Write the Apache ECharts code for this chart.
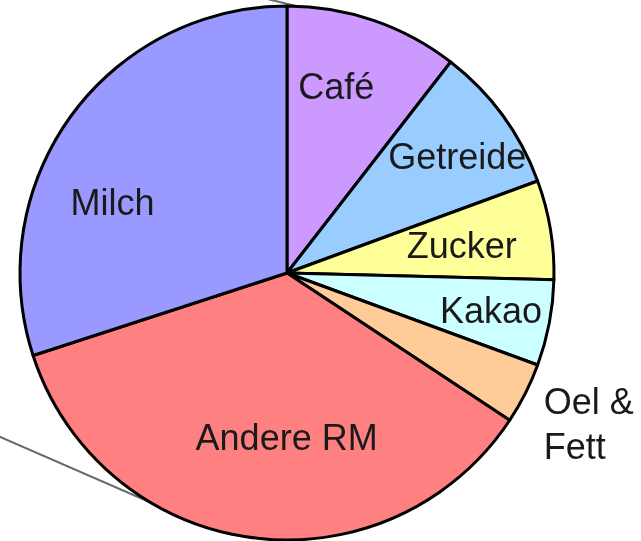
<!DOCTYPE html>
<html>
<head>
<meta charset="utf-8">
<style>
  html, body { margin: 0; padding: 0; background: #ffffff; }
  #chart { width: 641px; height: 541px; }
</style>
<script src="https://cdn.jsdelivr.net/npm/echarts@6/dist/echarts.min.js"></script>
</head>
<body>
<div id="chart"></div>
<script>
// Composition of raw materials (share in %)
const categories = ['Café', 'Getreide', 'Zucker', 'Kakao', 'Oel & Fett', 'Andere RM', 'Milch'];
const shares = [10.5, 8.9, 6.0, 5.2, 3.7, 35.7, 30.0];

// Slice fill colours
const sliceColors = ['#CC99FF', '#99CCFF', '#FFFF99', '#CCFFFF', '#FFCC99', '#FF8080', '#9999FF'];
// Label shifts relative to the default inner label anchor
const labelShift = [[5, -55], [60, -33], [40, -3], [70, 15], [181, 92], [18, 32], [-64, 12]];

const data = categories.map((name, i) => ({
  name: name,
  value: shares[i],
  itemStyle: { color: sliceColors[i] },
  label: i === 4
    ? {
        offset: labelShift[i],
        formatter: '{t|Oel &}\n{t|Fett}',
        rich: { t: { width: 92, align: 'left', lineHeight: 45, fontSize: 36, color: '#1a1a1a', fontFamily: 'Liberation Sans, Arial, sans-serif' } }
      }
    : { offset: labelShift[i] }
}));

const chart = echarts.init(document.getElementById('chart'), null, { renderer: 'canvas' });
chart.setOption({
  animation: false,
  backgroundColor: '#ffffff',
  series: [{
    type: 'pie',
    center: [287, 273],
    radius: 267,
    startAngle: 90,
    clockwise: true,
    avoidLabelOverlap: false,
    silent: true,
    itemStyle: { borderColor: '#000000', borderWidth: 3 },
    label: {
      show: true,
      position: 'inside',
      color: '#1a1a1a',
      fontFamily: 'Liberation Sans, Arial, sans-serif',
      fontSize: 36,
      formatter: '{b}'
    },
    labelLine: { show: false },
    data: data
  }],
  graphic: [
    { type: 'line', shape: { x1: 255, y1: -4, x2: 370, y2: 24 }, style: { stroke: '#6b6b6b', lineWidth: 2 } },
    { type: 'line', shape: { x1: -2, y1: 436, x2: 200, y2: 524 }, style: { stroke: '#6b6b6b', lineWidth: 2 } }
  ]
});
</script>
</body>
</html>
